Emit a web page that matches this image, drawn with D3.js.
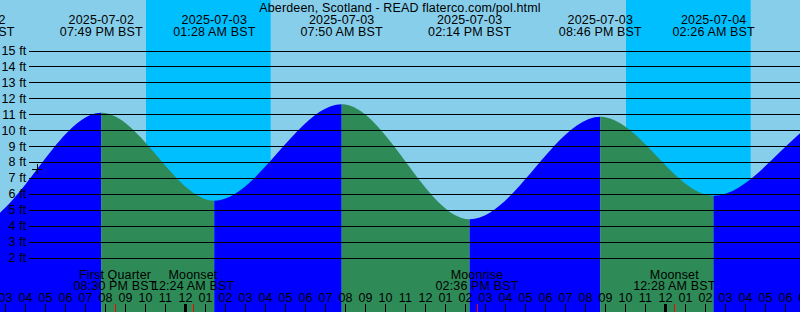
<!DOCTYPE html>
<html>
<head>
<meta charset="utf-8">
<script src="https://cdn.jsdelivr.net/npm/d3@7"></script>
<style>
  html, body { margin: 0; padding: 0; background: #87CEEB; }
  svg { display: block; }
  text { font-family: "Liberation Sans", Arial, sans-serif; font-size: 12.5px; letter-spacing: 0.15px; fill: #000; }
</style>
</head>
<body>
<svg id="chart" width="800" height="312"></svg>
<script>
// ---------------- data ----------------
const titleText = "Aberdeen, Scotland - READ flaterco.com/pol.html";

// tide extremes (local BST wall-clock)
const tideTimes   = ["2025-07-02T07:05","2025-07-02T13:24","2025-07-02T19:49","2025-07-03T01:28","2025-07-03T07:50","2025-07-03T14:14","2025-07-03T20:46","2025-07-04T02:26","2025-07-04T08:56","2025-07-04T15:10"];
const tideLabels  = ["07:05 AM BST","01:24 PM BST","07:49 PM BST","01:28 AM BST","07:50 AM BST","02:14 PM BST","08:46 PM BST","02:26 AM BST","08:56 AM BST","03:10 PM BST"];
const tideHeights = [11.8, 4.0, 11.09, 5.57, 11.62, 4.40, 10.84, 5.88, 11.2, 4.3];

// night (sunset -> sunrise)
const nightStarts = ["2025-07-02T22:03","2025-07-03T22:03"];
const nightEnds   = ["2025-07-03T04:17","2025-07-04T04:17"];

// moon events
const moonTimes  = ["2025-07-02T20:30","2025-07-03T00:24","2025-07-03T14:36","2025-07-04T00:28"];
const moonNames  = ["First Quarter","Moonset","Moonrise","Moonset"];
const moonLabels = ["08:30 PM BST","12:24 AM BST","02:36 PM BST","12:28 AM BST"];

// current-time marker
const nowTime = "2025-07-02T16:37";
const nowHeight = 7.55;

// y-axis ticks (feet)
const yTicks = [2,3,4,5,6,7,8,9,10,11,12,13,14,15];

// visible window
const windowStart = "2025-07-02T14:45";
const windowEnd   = "2025-07-04T06:45";

// ---------------- drawing ----------------
const W = 800, H = 312;
const parse = d3.utcParse("%Y-%m-%dT%H:%M");
const svg = d3.select("#chart");

const x = d3.scaleUtc().domain([parse(windowStart), parse(windowEnd)]).range([0, W]);
const y = d3.scaleLinear().domain([2, 15]).range([257.5, 50.5]);

// background
svg.append("rect").attr("x", 0).attr("y", 0).attr("width", W).attr("height", H).attr("fill", "#87CEEB");
svg.append("g").selectAll("rect").data(nightStarts).join("rect")
  .attr("x", (d) => x(parse(d)))
  .attr("y", 0)
  .attr("width", (d, i) => x(parse(nightEnds[i])) - x(parse(d)))
  .attr("height", H)
  .attr("fill", "#00BFFF");

// tide data
const tides = tideTimes.map((t, i) => ({ t: parse(t), h: tideHeights[i], label: tideLabels[i], date: t.slice(0, 10) }));

const area = d3.area()
  .x(d => x(d.t))
  .y0(H)
  .y1(d => y(d.h))
  .curve(d3.curveMonotoneX);

svg.append("clipPath").attr("id", "tideClip")
  .append("path").attr("d", area(tides));

const segs = d3.pairs(tides);
svg.append("g").attr("clip-path", "url(#tideClip)")
  .selectAll("rect").data(segs).join("rect")
  .attr("x", d => x(d[0].t))
  .attr("y", 0)
  .attr("width", d => x(d[1].t) - x(d[0].t))
  .attr("height", H)
  .attr("fill", d => d[1].h > d[0].h ? "#0000FF" : "#2E8B57");

// horizontal grid + y labels
const yAxis = d3.axisLeft(y)
  .tickValues(yTicks)
  .tickSize(W - 29)
  .tickPadding(2.5)
  .tickFormat(d => d + " ft");
const gy = svg.append("g").attr("transform", `translate(${W},0)`).call(yAxis);
gy.select(".domain").remove();
gy.attr("font-family", null).attr("font-size", null);
gy.selectAll("line").attr("stroke", "#000").attr("stroke-width", 1).attr("shape-rendering", "crispEdges");
gy.selectAll("text").attr("fill", "#000");

// title
svg.append("text").attr("x", W / 2).attr("y", 11.5).attr("text-anchor", "middle").text(titleText);

// tide labels (top)
const tl = svg.append("g").selectAll("g").data(tides).join("g")
  .attr("transform", d => `translate(${x(d.t)},0)`);
tl.append("text").attr("y", 23.5).attr("text-anchor", "middle").text(d => d.date);
tl.append("text").attr("y", 35.8).attr("text-anchor", "middle").text(d => d.label);

// moon labels (bottom)
const moons = moonTimes.map((t, i) => ({ t: parse(t), name: moonNames[i], label: moonLabels[i] }));
const ml = svg.append("g").selectAll("g").data(moons).join("g")
  .attr("transform", d => `translate(${x(d.t)},0)`);
ml.append("text").attr("y", 278.5).attr("text-anchor", "middle").text(d => d.name);
ml.append("text").attr("y", 290).attr("text-anchor", "middle").text(d => d.label);

// hour axis
const hours = d3.utcHour.range(parse(windowStart), d3.utcHour.offset(parse(windowEnd), 1));
const xAxis = d3.axisTop(x)
  .tickValues(hours)
  .tickSize(8)
  .tickPadding(2.3)
  .tickFormat(d3.utcFormat("%I"));
const gx = svg.append("g").attr("transform", `translate(0,${H})`).call(xAxis);
gx.select(".domain").remove();
gx.attr("font-family", null).attr("font-size", null);
gx.selectAll("text").attr("fill", "#000");
gx.selectAll("line")
  .attr("stroke", "#000")
  .attr("shape-rendering", "crispEdges")
  .attr("stroke-width", d => d.getUTCHours() === 0 ? 3 : 1);

// moon event ticks (red)
svg.append("g").selectAll("line").data(moons).join("line")
  .attr("x1", d => Math.round(x(d.t)) + 0.5)
  .attr("x2", d => Math.round(x(d.t)) + 0.5)
  .attr("y1", H - 8).attr("y2", H)
  .attr("stroke", "#FF0000").attr("stroke-width", 1);

// current time marker
const nx = x(parse(nowTime)), ny = y(nowHeight);
const pm = svg.append("g").attr("stroke", "#000").attr("stroke-width", 1).attr("shape-rendering", "crispEdges");
pm.append("line").attr("x1", nx - 5).attr("x2", nx + 5).attr("y1", ny).attr("y2", ny);
pm.append("line").attr("x1", nx).attr("x2", nx).attr("y1", ny - 5).attr("y2", ny + 5);
</script>
</body>
</html>
